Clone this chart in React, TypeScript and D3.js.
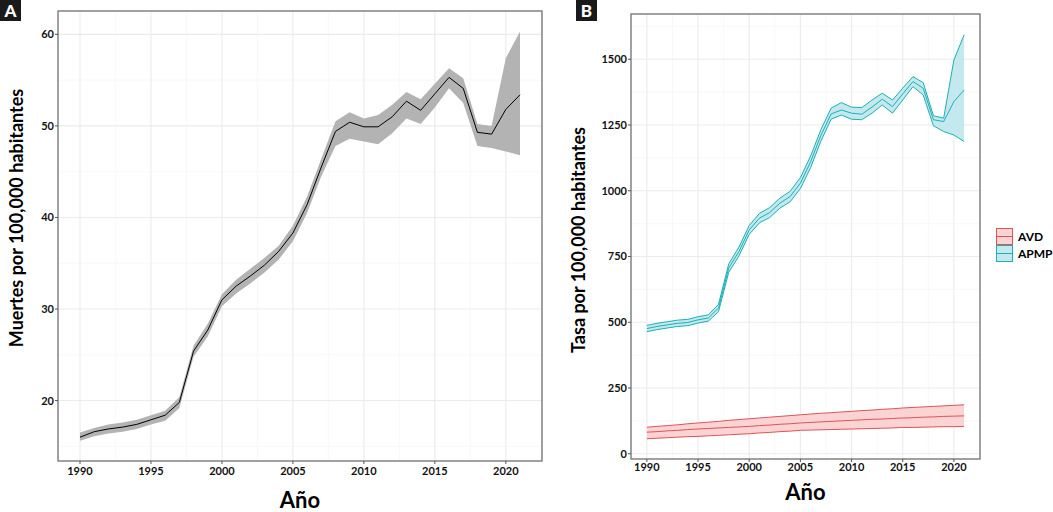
import { useEffect, useRef } from "react"
import * as d3 from "d3"

// Years 1990..2021
const years = [
  1990, 1991, 1992, 1993, 1994, 1995, 1996, 1997, 1998, 1999, 2000, 2001, 2002, 2003, 2004, 2005,
  2006, 2007, 2008, 2009, 2010, 2011, 2012, 2013, 2014, 2015, 2016, 2017, 2018, 2019, 2020, 2021,
]

// Panel A: deaths per 100,000
const deathMean = [
  16.0, 16.6, 16.9, 17.1, 17.4, 17.9, 18.4, 19.8, 25.4, 27.7, 31.0, 32.5, 33.6, 34.8, 36.3, 38.3,
  41.4, 45.5, 49.4, 50.4, 49.9, 49.9, 51.0, 52.7, 51.7, 53.5, 55.3, 54.1, 49.3, 49.1, 51.8, 53.4,
]
const deathLow = [
  15.6, 16.1, 16.4, 16.6, 16.9, 17.4, 17.8, 19.2, 24.8, 27.0, 30.3, 31.7, 32.8, 34.0, 35.4, 37.4,
  40.5, 44.5, 47.8, 48.6, 48.3, 48.0, 49.2, 50.8, 50.2, 52.0, 54.1, 52.5, 47.8, 47.6, 47.2, 46.8,
]
const deathHigh = [
  16.5, 17.0, 17.4, 17.6, 17.9, 18.4, 18.9, 20.4, 26.0, 28.4, 31.6, 33.2, 34.4, 35.6, 36.9, 39.1,
  42.3, 46.4, 50.5, 51.5, 50.8, 51.2, 52.3, 53.7, 52.9, 54.6, 56.3, 55.2, 50.2, 50.0, 57.4, 60.3,
]

// Panel B: rates per 100,000
const apmpMean = [
  476, 484, 490, 496, 499, 509, 516, 554, 706, 769, 851, 896, 917, 953, 978, 1029,
  1110, 1210, 1292, 1307, 1295, 1291, 1318, 1348, 1320, 1368, 1415, 1390, 1270, 1263, 1339, 1383,
]
const apmpLow = [
  464, 472, 478, 484, 487, 497, 504, 540, 690, 752, 834, 878, 898, 934, 958, 1008,
  1088, 1188, 1272, 1288, 1272, 1270, 1295, 1326, 1295, 1345, 1396, 1364, 1247, 1225, 1212, 1187,
]
const apmpHigh = [
  488, 496, 502, 508, 511, 521, 528, 568, 722, 786, 868, 914, 936, 972, 998, 1050,
  1132, 1232, 1314, 1335, 1318, 1316, 1345, 1371, 1345, 1390, 1434, 1411, 1285, 1276, 1497, 1593,
]
const avdMean = [
  82, 84, 87, 89, 92, 94, 96, 98, 100, 102, 104, 107, 109, 112, 114, 117,
  119, 121, 123, 125, 127, 129, 131, 132, 134, 136, 137, 139, 140, 142, 143, 144,
]
const avdLow = [
  57, 59, 61, 63, 65, 66, 68, 70, 72, 74, 76, 79, 81, 84, 86, 89,
  90, 91, 92, 93, 94, 95, 96, 97, 98, 100, 100, 101, 102, 103, 103, 104,
]
const avdHigh = [
  101, 104, 107, 110, 114, 117, 120, 123, 127, 130, 133, 136, 139, 142, 145, 148,
  151, 154, 156, 159, 161, 164, 166, 169, 171, 174, 176, 178, 180, 182, 184, 186,
]

const xTicks = [1990, 1995, 2000, 2005, 2010, 2015, 2020]
const yTicksA = [20, 30, 40, 50, 60]
const yTicksB = [0, 250, 500, 750, 1000, 1250, 1500]
const legendLabels = ["AVD", "APMP"]

const FONT = "Lato, 'Open Sans', sans-serif"
const AVD_LINE = "#e0525a"
const AVD_FILL = "#fbd3d3"
const APMP_LINE = "#1bb0b5"
const APMP_FILL = "#c3e9ef"

type Panel = {
  x0: number
  x1: number
  y0: number
  y1: number
  yDomain: [number, number]
  yTicks: number[]
  yLabel: string
  yLabelX: number
  yLabelY: number
  xLabelY: number
  tickLabelY: number
}

export default function App() {
  const svgRef = useRef<SVGSVGElement>(null)

  useEffect(() => {
    if (!svgRef.current) return
    const svg = d3.select(svgRef.current)
    svg.selectAll("*").remove()

    const drawFrame = (p: Panel) => {
      const x = d3.scaleLinear().domain([1988.45, 2022.55]).range([p.x0, p.x1])
      const y = d3.scaleLinear().domain(p.yDomain).range([p.y1, p.y0])
      const g = svg.append("g")

      // minor grid
      const step = p.yTicks[1] - p.yTicks[0]
      const minorY = p.yTicks.map((t) => t - step / 2).concat([p.yTicks[p.yTicks.length - 1] + step / 2])
        .filter((t) => t > p.yDomain[0] && t < p.yDomain[1])
      const minorX = xTicks.map((t) => t - 2.5).concat([2022.5]).filter((t) => t > 1988.45 && t < 2022.55)
      g.selectAll(".minY").data(minorY).join("line")
        .attr("x1", p.x0).attr("x2", p.x1).attr("y1", (d) => y(d)).attr("y2", (d) => y(d))
        .attr("stroke", "#f4f4f4").attr("stroke-width", 0.6)
      g.selectAll(".minX").data(minorX).join("line")
        .attr("y1", p.y0).attr("y2", p.y1).attr("x1", (d) => x(d)).attr("x2", (d) => x(d))
        .attr("stroke", "#f4f4f4").attr("stroke-width", 0.6)
      // major grid
      g.selectAll(".majY").data(p.yTicks).join("line")
        .attr("x1", p.x0).attr("x2", p.x1).attr("y1", (d) => y(d)).attr("y2", (d) => y(d))
        .attr("stroke", "#ebebeb").attr("stroke-width", 1.1)
      g.selectAll(".majX").data(xTicks).join("line")
        .attr("y1", p.y0).attr("y2", p.y1).attr("x1", (d) => x(d)).attr("x2", (d) => x(d))
        .attr("stroke", "#ebebeb").attr("stroke-width", 1.1)

      return { x, y, g }
    }

    const drawAxes = (p: Panel, x: d3.ScaleLinear<number, number>, y: d3.ScaleLinear<number, number>) => {
      const g = svg.append("g")
      g.append("rect")
        .attr("x", p.x0).attr("y", p.y0).attr("width", p.x1 - p.x0).attr("height", p.y1 - p.y0)
        .attr("fill", "none").attr("stroke", "#7a7a7a").attr("stroke-width", 1.4)

      g.selectAll(".tx").data(xTicks).join("line")
        .attr("x1", (d) => x(d)).attr("x2", (d) => x(d)).attr("y1", p.y1).attr("y2", p.y1 + 3)
        .attr("stroke", "#555").attr("stroke-width", 1)
      g.selectAll(".tlx").data(xTicks).join("text")
        .attr("x", (d) => x(d)).attr("y", p.tickLabelY)
        .attr("text-anchor", "middle").attr("font-family", FONT).attr("font-weight", 700)
        .attr("font-size", 11).attr("fill", "#111").text((d) => String(d))

      g.selectAll(".ty").data(p.yTicks).join("line")
        .attr("x1", p.x0 - 3).attr("x2", p.x0).attr("y1", (d) => y(d)).attr("y2", (d) => y(d))
        .attr("stroke", "#555").attr("stroke-width", 1)
      g.selectAll(".tly").data(p.yTicks).join("text")
        .attr("x", p.x0 - 4).attr("y", (d) => y(d)).attr("dy", "0.36em")
        .attr("text-anchor", "end").attr("font-family", FONT).attr("font-weight", 700)
        .attr("font-size", 11).attr("fill", "#111").text((d) => String(d))

      g.append("text")
        .attr("x", (p.x0 + p.x1) / 2).attr("y", p.xLabelY)
        .attr("text-anchor", "middle").attr("font-family", FONT).attr("font-weight", 700)
        .attr("font-size", 22).attr("fill", "#000").text("Año")

      g.append("text")
        .attr("transform", `translate(${p.yLabelX},${p.yLabelY}) rotate(-90)`)
        .attr("text-anchor", "middle").attr("font-family", FONT).attr("font-weight", 700)
        .attr("font-size", 18).attr("fill", "#000").text(p.yLabel)
    }

    const idx = d3.range(years.length)

    // ---- Panel A
    const pA: Panel = {
      x0: 58, x1: 542, y0: 11, y1: 461, yDomain: [13.4, 62.55], yTicks: yTicksA,
      yLabel: "Muertes por 100,000 habitantes", yLabelX: 23, yLabelY: 218, xLabelY: 508, tickLabelY: 475,
    }
    const a = drawFrame(pA)
    const areaA = d3.area<number>()
      .x((i) => a.x(years[i])).y0((i) => a.y(deathLow[i])).y1((i) => a.y(deathHigh[i]))
    a.g.append("path").attr("d", areaA(idx)).attr("fill", "#b3b3b3")
    const lineA = d3.line<number>().x((i) => a.x(years[i])).y((i) => a.y(deathMean[i]))
    a.g.append("path").attr("d", lineA(idx)).attr("fill", "none").attr("stroke", "#000").attr("stroke-width", 1)
    drawAxes(pA, a.x, a.y)

    // ---- Panel B
    const pB: Panel = {
      x0: 631, x1: 980, y0: 14, y1: 459, yDomain: [-20, 1672], yTicks: yTicksB,
      yLabel: "Tasa por 100,000 habitantes", yLabelX: 585, yLabelY: 240, xLabelY: 500, tickLabelY: 471,
    }
    const b = drawFrame(pB)
    const series = [
      { mean: avdMean, low: avdLow, high: avdHigh, line: AVD_LINE, fill: AVD_FILL },
      { mean: apmpMean, low: apmpLow, high: apmpHigh, line: APMP_LINE, fill: APMP_FILL },
    ]
    series.forEach((s) => {
      const area = d3.area<number>()
        .x((i) => b.x(years[i])).y0((i) => b.y(s.low[i])).y1((i) => b.y(s.high[i]))
      b.g.append("path").attr("d", area(idx)).attr("fill", s.fill)
      ;[s.low, s.mean, s.high].forEach((vals) => {
        const ln = d3.line<number>().x((i) => b.x(years[i])).y((i) => b.y(vals[i]))
        b.g.append("path").attr("d", ln(idx)).attr("fill", "none").attr("stroke", s.line).attr("stroke-width", 1)
      })
    })
    drawAxes(pB, b.x, b.y)

    // legend
    const lg = svg.append("g").attr("transform", "translate(996,228)")
    legendLabels.forEach((lab, k) => {
      const s = series[k]
      const row = lg.append("g").attr("transform", `translate(0,${k * 17})`)
      row.append("rect").attr("x", 0.5).attr("y", 0.5).attr("width", 16).attr("height", 16)
        .attr("fill", s.fill).attr("stroke", s.line).attr("stroke-width", 1)
      row.append("line").attr("x1", 0.5).attr("x2", 16.5).attr("y1", 8.5).attr("y2", 8.5)
        .attr("stroke", s.line).attr("stroke-width", 1)
      row.append("text").attr("x", 22).attr("y", 9).attr("dy", "0.36em")
        .attr("font-family", FONT).attr("font-weight", 700).attr("font-size", 12).attr("fill", "#000").text(lab)
    })

    // panel tags
    const tags = [{ t: "A", x: 0 }, { t: "B", x: 576 }]
    tags.forEach((tg) => {
      svg.append("rect").attr("x", tg.x).attr("y", 0).attr("width", 21).attr("height", 21).attr("fill", "#1a1a1a")
      svg.append("text").attr("x", tg.x + 10.5).attr("y", 11).attr("dy", "0.36em").attr("text-anchor", "middle")
        .attr("font-family", FONT).attr("font-weight", 900).attr("font-size", 17).attr("fill", "#fff").text(tg.t)
    })
  }, [])

  return (
    <svg
      ref={svgRef}
      width={1053}
      height={512}
      style={{ position: "absolute", left: 0, top: 0, background: "#fff" }}
    />
  )
}
